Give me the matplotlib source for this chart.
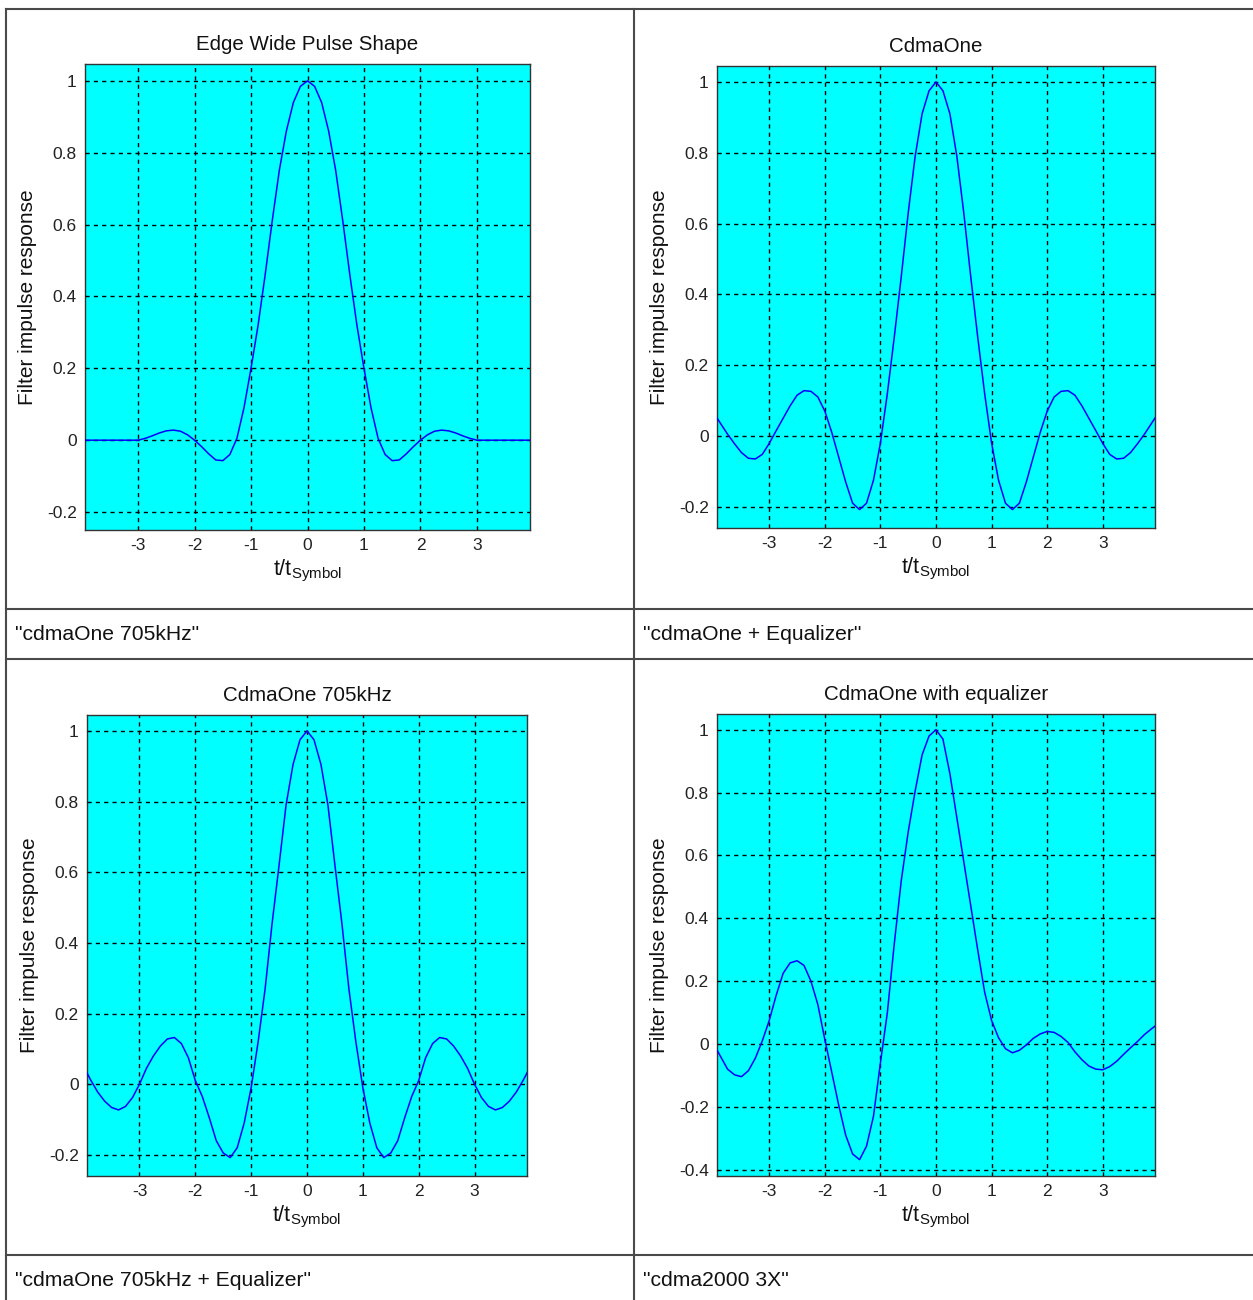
import matplotlib
import matplotlib.pyplot as plt
import numpy as np

matplotlib.use("Agg")

plt.rcParams["font.family"] = ["Liberation Sans", "DejaVu Sans"]
plt.rcParams["mathtext.default"] = "regular"

W_PX, H_PX = 1253, 1300
DPI = 100

# sampling grid, t/t_symbol from -4 to 4 in steps of 1/8
T_SYMBOL = np.linspace(-4, 4, 65)

EDGE_WIDE = [
    0, 0, 0, 0, 0, 0, 0, 0,
    0.0, 0.005, 0.012, 0.02, 0.026, 0.028, 0.025, 0.015,
    0.0, -0.018, -0.038, -0.055, -0.057, -0.04, 0.005, 0.09,
    0.20, 0.32, 0.46, 0.61, 0.75, 0.86, 0.94, 0.985,
    1.0,
    0.985, 0.94, 0.86, 0.75, 0.61, 0.46, 0.32, 0.20,
    0.09, 0.005, -0.04, -0.057, -0.055, -0.038, -0.018, 0.0,
    0.015, 0.025, 0.028, 0.026, 0.02, 0.012, 0.005, 0.0,
    0, 0, 0, 0, 0, 0, 0, 0,
]

CDMAONE = [
    0.065, 0.035, 0.005, -0.022, -0.047, -0.063, -0.065, -0.052,
    -0.021, 0.015, 0.05, 0.085, 0.115, 0.128, 0.126, 0.11,
    0.07, 0.01, -0.06, -0.13, -0.19, -0.208, -0.19, -0.125,
    -0.02, 0.12, 0.28, 0.45, 0.63, 0.79, 0.91, 0.975,
    1.0,
    0.975, 0.91, 0.79, 0.63, 0.45, 0.28, 0.12, -0.02,
    -0.125, -0.19, -0.208, -0.19, -0.13, -0.06, 0.01, 0.07,
    0.11, 0.126, 0.128, 0.115, 0.085, 0.05, 0.015, -0.021,
    -0.052, -0.065, -0.063, -0.047, -0.022, 0.005, 0.035, 0.065,
]

CDMAONE_705 = [
    0.05, 0.012, -0.022, -0.048, -0.066, -0.073, -0.063, -0.038,
    0.0, 0.045, 0.08, 0.108, 0.128, 0.132, 0.115, 0.075,
    0.01, -0.035, -0.095, -0.16, -0.195, -0.208, -0.18, -0.11,
    -0.01, 0.12, 0.27, 0.455, 0.62, 0.79, 0.905, 0.975,
    1.0,
    0.975, 0.905, 0.79, 0.62, 0.455, 0.27, 0.12, -0.01,
    -0.11, -0.18, -0.208, -0.195, -0.16, -0.095, -0.035, 0.01,
    0.075, 0.115, 0.132, 0.128, 0.108, 0.08, 0.045, 0.0,
    -0.038, -0.063, -0.073, -0.066, -0.048, -0.022, 0.012, 0.05,
]

CDMAONE_EQ = [
    0.0, -0.04, -0.08, -0.098, -0.104, -0.085, -0.045, 0.01,
    0.075, 0.155, 0.225, 0.258, 0.265, 0.25, 0.2, 0.125,
    0.014, -0.09, -0.195, -0.29, -0.35, -0.368, -0.325, -0.23,
    -0.06, 0.1, 0.32, 0.52, 0.675, 0.805, 0.92, 0.98,
    1.0,
    0.97, 0.86, 0.72, 0.58, 0.44, 0.30, 0.165, 0.075,
    0.02, -0.015, -0.028, -0.02, -0.003, 0.018, 0.032, 0.04,
    0.037, 0.024, 0.005, -0.025, -0.05, -0.07, -0.08, -0.082,
    -0.072, -0.055, -0.033, -0.012, 0.008, 0.03, 0.048, 0.065,
]

SERIES = [EDGE_WIDE, CDMAONE, CDMAONE_705, CDMAONE_EQ]
TITLES = ["Edge Wide Pulse Shape", "CdmaOne", "CdmaOne 705kHz", "CdmaOne with equalizer"]
CAPTIONS = ['"cdmaOne 705kHz"', '"cdmaOne + Equalizer"',
            '"cdmaOne 705kHz + Equalizer"', '"cdma2000 3X"']
X_TICKS = [-3, -2, -1, 0, 1, 2, 3]
Y_TICKS_A = [-0.2, 0, 0.2, 0.4, 0.6, 0.8, 1]
Y_TICKS_B = [-0.4, -0.2, 0, 0.2, 0.4, 0.6, 0.8, 1]
Y_TICKS = [Y_TICKS_A, Y_TICKS_A, Y_TICKS_A, Y_TICKS_B]
Y_LIMS = [(-0.25, 1.047), (-0.26, 1.045), (-0.26, 1.045), (-0.42, 1.05)]

# axes boxes in pixels: left, top, right, bottom
BOXES = [(85, 64, 530, 530), (717, 66, 1155, 528),
         (87, 715, 527, 1176), (717, 714, 1155, 1176)]
CAPTION_POS = [(15, 634), (643, 634), (15, 1280), (643, 1280)]

CYAN = "#00FFFF"
BLUE = "#0000FF"
TABLE = "#4a4a4a"


def tick_label(v):
    if v == 0:
        return "0"
    if v == 1:
        return "1"
    return f"{v:.1f}"


fig = plt.figure(figsize=(W_PX / DPI, H_PX / DPI), dpi=DPI)
fig.patch.set_facecolor("white")

# table frame and captions drawn in pixel coordinates
bg = fig.add_axes([0, 0, 1, 1])
bg.set_xlim(0, W_PX)
bg.set_ylim(H_PX, 0)
bg.axis("off")
for y in (9, 609, 659, 1255):
    bg.plot([6, W_PX], [y, y], color=TABLE, lw=1.5)
for x in (6, 634):
    bg.plot([x, x], [9, H_PX], color=TABLE, lw=1.5)
for (cx, cy), text in zip(CAPTION_POS, CAPTIONS):
    bg.text(cx, cy, text, ha="left", va="center", fontsize=15.2, color="#111111")

for i, ys in enumerate(SERIES):
    l, t, r, b = BOXES[i]
    ax = fig.add_axes([l / W_PX, 1 - b / H_PX, (r - l) / W_PX, (b - t) / H_PX])
    ax.set_facecolor(CYAN)
    ax.plot(T_SYMBOL, ys, color=BLUE, lw=1.1, zorder=3)
    ax.set_xlim(-3.94, 3.94)
    ax.set_ylim(*Y_LIMS[i])
    ax.set_xticks(X_TICKS)
    ax.set_xticklabels([str(v) for v in X_TICKS])
    ax.set_yticks(Y_TICKS[i])
    ax.set_yticklabels([tick_label(v) for v in Y_TICKS[i]])
    ax.grid(True, color="black", linestyle=(0, (3, 3)), lw=1.0, zorder=2)
    ax.set_axisbelow(False)
    ax.tick_params(direction="in", length=0, labelsize=12.5, pad=6, colors="#222222")
    for sp in ax.spines.values():
        sp.set_color("#333333")
        sp.set_linewidth(1.0)
    ax.set_title(TITLES[i], fontsize=14.8, pad=10, color="#111111")
    ax.set_xlabel("t/t$_{Symbol}$", fontsize=15.5, labelpad=3, color="#111111")
    ax.set_ylabel("Filter impulse response", fontsize=15, labelpad=7, color="#111111")

fig.savefig("out.png", dpi=DPI, facecolor="white")
plt.close(fig)
